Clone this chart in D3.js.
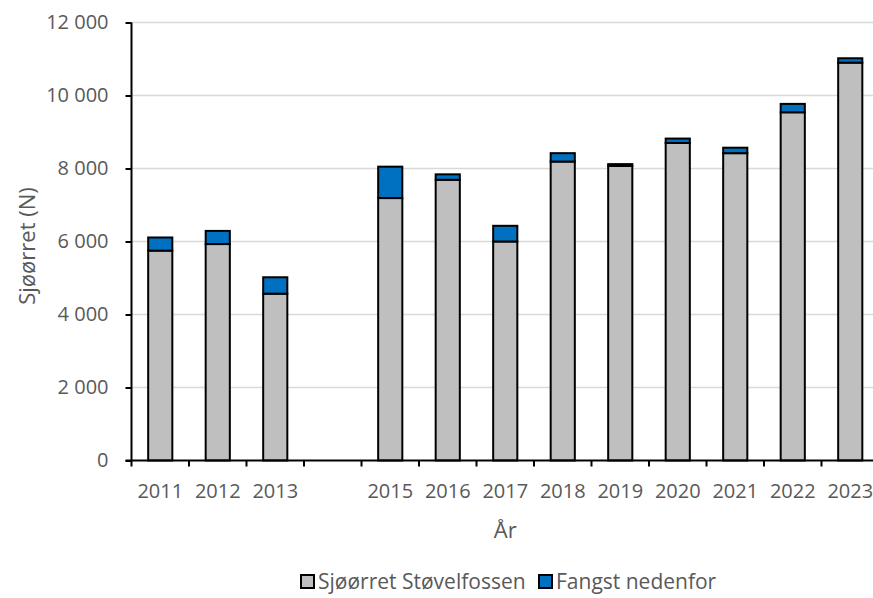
<!DOCTYPE html>
<html>
<head>
    <meta charset="utf-8">
    <title>Sjøørret</title>
    <script src="https://d3js.org/d3.v7.min.js"></script>
    <style>
        body { margin: 0; background: #fff; }
        text { font-family: "Open Sans", "Noto Sans", sans-serif; fill: #595959; }
    </style>
</head>
<body>
<div id="chart"></div>
<script>
    // Data
    const years = ["2011", "2012", "2013", "2014", "2015", "2016", "2017", "2018", "2019", "2020", "2021", "2022", "2023"];
    const yearLabels = ["2011", "2012", "2013", "", "2015", "2016", "2017", "2018", "2019", "2020", "2021", "2022", "2023"];
    const stovelfossen = [5750, 5930, 4570, null, 7190, 7690, 6000, 8190, 8070, 8700, 8420, 9540, 10900];
    const nedenfor = [360, 360, 450, null, 860, 150, 430, 230, 50, 120, 150, 230, 120];
    const seriesNames = ["Sjøørret Støvelfossen", "Fangst nedenfor"];
    const seriesColors = ["#bfbfbf", "#0070c0"];
    const yTicks = [0, 2000, 4000, 6000, 8000, 10000, 12000];

    const width = 873, height = 598;
    const plotLeft = 131.5, plotRight = 879, plotTop = 22.5, plotBottom = 460.5;

    const svg = d3.select("#chart").append("svg")
        .attr("width", width)
        .attr("height", height);

    const x = d3.scaleBand()
        .domain(years)
        .range([plotLeft, plotRight])
        .paddingInner(0.58)
        .paddingOuter(0.29);

    const y = d3.scaleLinear()
        .domain([0, 12000])
        .range([plotBottom, plotTop]);

    // gridlines
    svg.append("g")
        .selectAll("line")
        .data(yTicks.filter(d => d > 0))
        .enter()
        .append("line")
        .attr("x1", plotLeft)
        .attr("x2", width)
        .attr("y1", d => y(d))
        .attr("y2", d => y(d))
        .attr("stroke", "#d9d9d9")
        .attr("stroke-width", 1.5);

    // stacked bars
    const rows = years.map((yr, i) => ({ year: yr, a: stovelfossen[i], b: nedenfor[i] }))
        .filter(d => d.a != null);

    const bars = svg.append("g");
    rows.forEach(d => {
        bars.append("rect")
            .attr("x", x(d.year))
            .attr("width", x.bandwidth())
            .attr("y", y(d.a))
            .attr("height", y(0) - y(d.a))
            .attr("fill", seriesColors[0])
            .attr("stroke", "#000")
            .attr("stroke-width", 2);
        bars.append("rect")
            .attr("x", x(d.year))
            .attr("width", x.bandwidth())
            .attr("y", y(d.a + d.b))
            .attr("height", y(d.a) - y(d.a + d.b))
            .attr("fill", seriesColors[1])
            .attr("stroke", "#000")
            .attr("stroke-width", 2);
    });

    // y axis
    const yAxis = svg.append("g")
        .attr("transform", "translate(" + plotLeft + ",0)")
        .call(d3.axisLeft(y)
            .tickValues(yTicks)
            .tickSize(6)
            .tickPadding(17)
            .tickFormat(d => d3.format(",")(d).replace(",", " ")));
    yAxis.select(".domain").attr("stroke", "#000").attr("stroke-width", 2)
        .attr("d", "M0," + plotTop + "V" + plotBottom);
    yAxis.selectAll(".tick line").attr("stroke", "#000").attr("stroke-width", 2);
    yAxis.selectAll(".tick text")
        .attr("font-size", 20)
        .style("fill", "#595959")
        .style("font-family", "'Open Sans', sans-serif");

    // x axis line
    svg.append("line")
        .attr("x1", plotLeft - 6)
        .attr("x2", width)
        .attr("y1", plotBottom)
        .attr("y2", plotBottom)
        .attr("stroke", "#000")
        .attr("stroke-width", 2);

    // x ticks at category boundaries
    const gap = (x.step() - x.bandwidth()) / 2;
    svg.append("g")
        .selectAll("line")
        .data(years)
        .enter()
        .append("line")
        .attr("x1", d => x(d) - gap)
        .attr("x2", d => x(d) - gap)
        .attr("y1", plotBottom)
        .attr("y2", plotBottom + 6)
        .attr("stroke", "#000")
        .attr("stroke-width", 2);

    // x labels
    svg.append("g")
        .selectAll("text")
        .data(years)
        .enter()
        .append("text")
        .attr("x", d => x(d) + x.bandwidth() / 2)
        .attr("y", 498)
        .attr("text-anchor", "middle")
        .attr("font-size", 20)
        .text((d, i) => yearLabels[i]);

    // axis titles
    svg.append("text")
        .attr("x", (plotLeft + plotRight) / 2)
        .attr("y", 538)
        .attr("text-anchor", "middle")
        .attr("font-size", 22)
        .text("År");

    svg.append("text")
        .attr("transform", "translate(35,246) rotate(-90)")
        .attr("text-anchor", "middle")
        .attr("font-size", 22)
        .text("Sjøørret (N)");

    // legend
    const legendX = [300, 538];
    const legend = svg.append("g");
    seriesNames.forEach((name, i) => {
        legend.append("rect")
            .attr("x", legendX[i] + 1)
            .attr("y", 575)
            .attr("width", 13)
            .attr("height", 13)
            .attr("fill", seriesColors[i])
            .attr("stroke", "#000")
            .attr("stroke-width", 2);
        legend.append("text")
            .attr("x", legendX[i] + 18)
            .attr("y", 589)
            .attr("font-size", 21)
            .text(name);
    });
</script>
</body>
</html>
